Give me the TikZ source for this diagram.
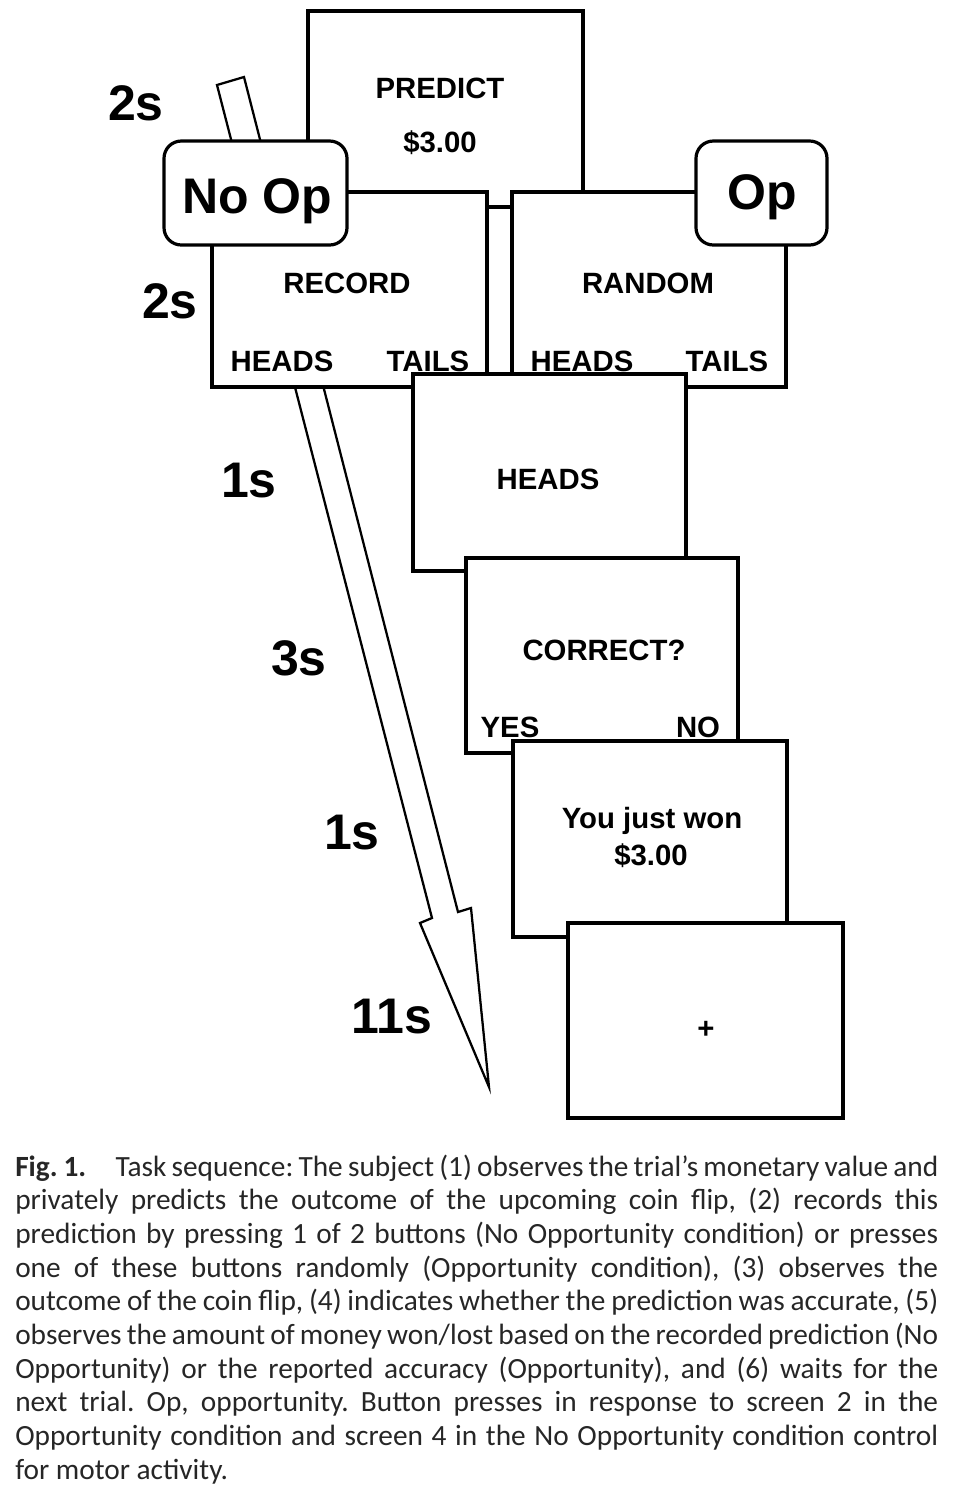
\documentclass[tikz,border=0pt]{standalone}
\usepackage{fontspec}
\setmainfont{Liberation Sans}
\newfontfamily\capfont{Carlito}
\tikzset{
 screen/.style={draw=black, line width=2.4pt, fill=white},
 opbox/.style={draw=black, line width=2.4pt, fill=white, rounded corners=13pt},
 lbl/.style={font=\fontsize{22}{26}\selectfont\bfseries, anchor=base, inner sep=0pt},
 tlbl/.style={font=\fontsize{37.5}{42}\selectfont\bfseries, anchor=base, inner sep=0pt},
 capline/.style={font=\capfont\fontsize{22}{25}\selectfont, text=black!85, anchor=base west, inner sep=0pt},
 timearrow/.style={draw=black, line width=1.7pt, fill=white, line join=miter},
}
\newcommand{\capl}[1]{\makebox[692.25pt][s]{#1}}
\frenchspacing
\begin{document}
\begin{tikzpicture}[x=0.75pt,y=-0.75pt]
\useasboundingbox (0,0) rectangle (956,1490);
% time arrow (runs behind the screens)
\draw[timearrow] (217,85) -- (244,77) -- (458,912) -- (471,908) -- (489,1087) -- (420,923) -- (432,918) -- cycle;
% screens
\draw[screen] (308,11) rectangle (583,207);
\draw[screen] (212,192) rectangle (487,387);
\draw[screen] (512,192) rectangle (786,387);
\draw[opbox] (164,141) rectangle (347,245);
\draw[opbox] (696,141) rectangle (827,245);
\draw[screen] (413,374) rectangle (686,571);
\draw[screen] (466,558) rectangle (738,753);
\draw[screen] (513,741) rectangle (787,937);
\draw[screen] (568,923) rectangle (843,1118);
% screen texts
\node[lbl] (predict) at (440,98) {PREDICT};
\node[lbl] (amount) at (440,152) {\$3.00};
\node[tlbl] (noop) at (257,213) {No Op};
\node[tlbl] (op) at (762,209) {Op};
\node[lbl] (record) at (347,293) {RECORD};
\node[lbl] (rh) at (282,371) {HEADS};
\node[lbl] (rt) at (428,371) {TAILS};
\node[lbl] (random) at (648,293) {RANDOM};
\node[lbl] (nh) at (582,371) {HEADS};
\node[lbl] (nt) at (727,371) {TAILS};
\node[lbl] (heads) at (548,489) {HEADS};
\node[lbl] (correct) at (604,660) {CORRECT?};
\node[lbl] (yes) at (510,737) {YES};
\node[lbl] (no) at (698,737) {NO};
\node[lbl] (won) at (652,828) {You just won};
\node[lbl] (wonamt) at (651,865) {\$3.00};
\node[lbl, anchor=center] (plus) at (706,1030) {+};
% time labels
\node[tlbl] (t1) at (136,120) {2s};
\node[tlbl] (t2) at (170,318) {2s};
\node[tlbl] (t3) at (249,497) {1s};
\node[tlbl] (t4) at (299,675) {3s};
\node[tlbl] (t5) at (352,849) {1s};
\node[tlbl] (t6) at (392,1033) {11s};
% caption
\node[capline] (c1) at (15,1176) {\capl{\textbf{Fig.\hspace{0.2em}1.}\hspace{22pt}Task sequence: The subject (1) observes the trial’s monetary value and}};
\node[capline] (c2) at (15,1209.7) {\capl{privately predicts the outcome of the upcoming coin flip, (2) records this}};
\node[capline] (c3) at (15,1243.4) {\capl{prediction by pressing 1 of 2 buttons (No Opportunity condition) or presses}};
\node[capline] (c4) at (15,1277.1) {\capl{one of these buttons randomly (Opportunity condition), (3) observes the}};
\node[capline] (c5) at (15,1310.8) {\capl{outcome of the coin flip, (4) indicates whether the prediction was accurate, (5)}};
\node[capline] (c6) at (15,1344.5) {\capl{observes the amount of money won/lost based on the recorded prediction (No}};
\node[capline] (c7) at (15,1378.2) {\capl{Opportunity) or the reported accuracy (Opportunity), and (6) waits for the}};
\node[capline] (c8) at (15,1411.9) {\capl{next trial. Op, opportunity. Button presses in response to screen 2 in the}};
\node[capline] (c9) at (15,1445.6) {\capl{Opportunity condition and screen 4 in the No Opportunity condition control}};
\node[capline] (c10) at (15,1479.3) {for motor activity.};
\end{tikzpicture}
\end{document}
